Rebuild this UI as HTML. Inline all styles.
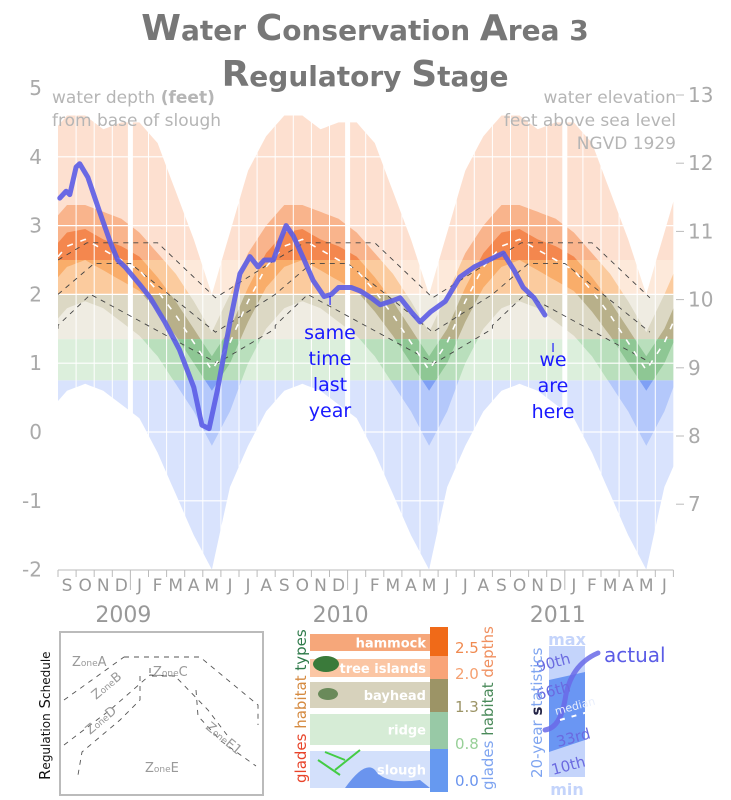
<!DOCTYPE html>
<html><head><meta charset="utf-8"><style>
body{margin:0;background:#fff;width:731px;height:800px;overflow:hidden;font-family:"DejaVu Sans","Liberation Sans",sans-serif}
svg{position:absolute;left:0;top:0}
</style></head><body>
<svg id="c" width="731" height="800" xmlns="http://www.w3.org/2000/svg"></svg>
<script>
// ---- data ----
const monthLabels=["S","O","N","D","J","F","M","A","M","J","J","A","S","O","N","D","J","F","M","A","M","J","J","A","S","O","N","D","J","F","M","A","M","J"];
const yearLabels=["2009","2010","2011"];
const leftTicks=[5,4,3,2,1,0,-1,-2];
const rightTicks=[13,12,11,10,9,8,7];
// seasonal statistics, Jan..Dec (depth ft)
const statMax=[4.5,4.2,3.5,2.8,2.0,2.9,3.8,4.3,4.6,4.6,4.4,4.5];
const statP90=[2.9,2.6,2.3,1.9,1.45,2.0,2.6,3.0,3.3,3.3,3.2,3.1];
const statP66=[2.55,2.25,1.9,1.5,1.1,1.5,2.1,2.6,2.9,2.95,2.8,2.7];
const statMed=[2.35,2.05,1.7,1.3,0.9,1.3,1.9,2.4,2.7,2.8,2.65,2.5];
const statP33=[2.05,1.75,1.4,1.0,0.6,1.0,1.6,2.1,2.4,2.5,2.35,2.2];
const statP10=[1.4,1.1,0.7,0.3,-0.2,0.3,1.0,1.5,1.8,1.9,1.8,1.6];
const statMin=[0.2,-0.3,-0.9,-1.5,-2.0,-0.8,-0.2,0.3,0.6,0.7,0.6,0.4];
// actual depth: month offset from Sep 1 2008, depth
const actualMonth=[0.1,0.45,0.65,1.0,1.2,1.65,2.3,2.9,3.3,3.7,4.5,5.1,5.9,6.7,7.5,7.95,8.35,8.8,9.5,10.05,10.6,11.05,11.4,11.9,12.3,12.6,13.0,13.6,14.1,14.7,15.1,15.5,16.2,16.7,17.3,17.8,18.4,18.9,19.5,20.0,20.6,21.4,22.2,23.0,23.8,24.6,25.2,25.7,26.3,26.9];
const actualDepth=[3.4,3.5,3.45,3.85,3.9,3.7,3.2,2.75,2.5,2.4,2.15,1.95,1.6,1.2,0.65,0.1,0.05,0.6,1.6,2.3,2.55,2.4,2.5,2.5,2.8,3.0,2.85,2.5,2.2,1.97,2.0,2.1,2.1,2.05,1.95,1.85,1.9,1.95,1.75,1.6,1.75,1.9,2.25,2.4,2.5,2.6,2.35,2.1,1.95,1.7];
// regulation schedule lines (month offset from Sep 1, depth) repeating yearly
const reg1M=[0,1.6,5.5,8.7,12], reg1V=[2.5,2.75,2.75,1.95,2.5];
const reg2M=[0,2.0,4.0,8.7,12], reg2V=[2.0,2.45,2.45,1.45,2.0];
const reg3M=[0,1.8,8.8,12], reg3V=[1.55,2.0,1.0,1.5];
// habitat zones (depth bounds) and colors [light, mid, dark]
const zoneLow=[2.5,2.0,1.35,0.75,-3];
const zoneHigh=[6,2.5,2.0,1.35,0.75];
const zoneCols=[["#fde0d0","#f9b48c","#f4874e"],["#fde9da","#fbcb9e","#f9ad6a"],["#efece2","#dcd8c4","#b8b08a"],["#dcefdc","#b9dfbc","#8ec794"],["#d9e3fd","#b4c8fb","#7fa0f5"]];

const S=document.getElementById('c'),NS='http://www.w3.org/2000/svg';
function mk(t,a,p){const e=document.createElementNS(NS,t);for(const k in a)e.setAttribute(k,a[k]);(p||S).appendChild(e);return e;}
const X0=58,MW=18.1;
const xs=m=>X0+m*MW;
const ys=d=>432-d*68.8;
const yR=e=>436-(e-8)*68.2;

function statAt(arr,m){
  const t=m-0.5; const i=Math.floor(t); const f=t-i;
  const cal=k=>arr[((k+8)%12+12)%12];
  return cal(i)*(1-f)+cal(i+1)*f;
}
function bandPath(lo,hi){
  let pts=[],N=34*4;
  for(let k=0;k<=N;k++){const m=k/4;pts.push(xs(m).toFixed(1)+','+ys(statAt(hi,m)).toFixed(1));}
  for(let k=N;k>=0;k--){const m=k/4;pts.push(xs(m).toFixed(1)+','+ys(statAt(lo,m)).toFixed(1));}
  return 'M'+pts.join('L')+'Z';
}
const defs=mk('defs',{});
const gBands=mk('g',{});


zoneLow.forEach((lo,i)=>{
  const cp=mk('clipPath',{id:'z'+i},defs);
  mk('rect',{x:X0,y:ys(zoneHigh[i]),width:34*MW,height:ys(lo)-ys(zoneHigh[i])},cp);
  const g=mk('g',{'clip-path':'url(#z'+i+')'},gBands);
  const a=mk('path',{d:bandPath(statMin,statMax),fill:zoneCols[i][0]},g);
  
  
  const b=mk('path',{d:bandPath(statP10,statP90),fill:zoneCols[i][1]},g);
  
  
  const c=mk('path',{d:bandPath(statP33,statP66),fill:zoneCols[i][2]},g);
  
  
});
for(let m=1;m<34;m++){const l=mk('line',{x1:xs(m),x2:xs(m),y1:80,y2:568,stroke:'#fff','stroke-width':(m%12==4)?5:1});
}
leftTicks.forEach(v=>{const l=mk('line',{x1:X0,x2:xs(34),y1:ys(v),y2:ys(v),stroke:'#fff','stroke-width':1.2});
});
function regPath(M,V){let p=[];for(let y=-1;y<3;y++)M.forEach((m,i)=>{const mm=m+12*y;if(mm>=-0.01&&mm<=34.01)p.push(xs(mm).toFixed(1)+','+ys(V[i]).toFixed(1));});
  return 'M'+p.join('L');}
[[reg1M,reg1V],[reg2M,reg2V],[reg3M,reg3V]].forEach(([M,V],i)=>{
  const p=mk('path',{d:regPath(M,V),fill:'none',stroke:'#444','stroke-width':0.9,'stroke-dasharray':'5,5','clip-path':'url(#pl)'});
  });
const pl=mk('clipPath',{id:'pl'},defs);mk('rect',{x:X0,y:0,width:34*MW,height:600},pl);
(function(){let p=[];for(let k=0;k<=136;k++){const m=k/4;p.push(xs(m).toFixed(1)+','+ys(statAt(statMed,m)).toFixed(1));}
const e=mk('path',{d:'M'+p.join('L'),fill:'none',stroke:'#fff','stroke-width':1.6,'stroke-dasharray':'6,8'});
})();
(function(){const p=actualMonth.map((m,i)=>xs(m).toFixed(1)+','+ys(actualDepth[i]).toFixed(1));
const e=mk('path',{d:'M'+p.join('L'),fill:'none',stroke:'#5b5ce6','stroke-width':5,'stroke-linejoin':'round','stroke-linecap':'round',opacity:0.9});
})();
function txt(s,a,name){const e=mk('text',a);e.textContent=s;return e;}
leftTicks.forEach(v=>txt(String(v),{x:42,y:ys(v)+7,'text-anchor':'end','font-size':20,fill:'#aaa'},'left-tick-label'));
rightTicks.forEach(v=>{mk('line',{x1:676,x2:684,y1:yR(v),y2:yR(v),stroke:'#bbb'});
 txt(String(v),{x:688,y:yR(v)+7,'font-size':20,fill:'#aaa'},'right-tick-label');});
mk('line',{x1:X0,x2:xs(34),y1:570,y2:570,stroke:'#bbb'});
for(let m=0;m<=34;m++){const big=(m%12==4);mk('line',{x1:xs(m),x2:xs(m),y1:570,y2:big?590:577,stroke:'#bbb'});}
monthLabels.forEach((s,i)=>txt(s,{x:xs(i+0.5),y:591,'text-anchor':'middle','font-size':17,fill:'#999'},'month-label'));
yearLabels.forEach((s,i)=>txt(s,{x:xs(4+12*i)-7,y:622,'text-anchor':'middle','font-size':22,fill:'#999'},'year-label'));
const t1=txt('',{x:365,y:40,'text-anchor':'middle','font-size':28,'font-weight':'bold',fill:'#777'},'chart-title');
t1.innerHTML='<tspan font-size="36">W</tspan>ater <tspan font-size="36">C</tspan>onservation <tspan font-size="36">A</tspan>rea 3';
const t2=txt('',{x:365,y:86,'text-anchor':'middle','font-size':28,'font-weight':'bold',fill:'#777'},'chart-subtitle');
t2.innerHTML='<tspan font-size="36">R</tspan>egulatory <tspan font-size="36">S</tspan>tage';
const la=txt('',{x:52,y:103,'font-size':17,fill:'#b5b5b5'},'left-axis-title');la.innerHTML='water depth <tspan font-weight="bold">(feet)</tspan>';
txt('from base of slough',{x:52,y:126,'font-size':17,fill:'#b5b5b5'},'left-axis-subtitle');
txt('water elevation',{x:676,y:103,'text-anchor':'end','font-size':17,fill:'#b5b5b5'},'right-axis-title');
txt('feet above sea level',{x:676,y:126,'text-anchor':'end','font-size':17,fill:'#b5b5b5'},'right-axis-subtitle');
txt('NGVD 1929',{x:676,y:149,'text-anchor':'end','font-size':17,fill:'#b5b5b5'},'right-axis-datum');
['I','same','time','last','year'].forEach((s,i)=>txt(s,{x:330,y:[305,339,365,391,417][i],'text-anchor':'middle','font-size':i==0?12:19,fill:'#1a1aff'},'same-time-last-year-annotation'));
['I','we','are','here'].forEach((s,i)=>txt(s,{x:553,y:[352,366,392,418][i],'text-anchor':'middle','font-size':i==0?12:19,fill:'#1a1aff'},'we-are-here-annotation'));

const r=mk('rect',{x:60,y:632,width:203,height:163,fill:'#fff',stroke:'#bbb','stroke-width':2});

const rl=txt('',{transform:'translate(50,780) rotate(-90)','font-size':15,fill:'#111'},'regulation-schedule-title');
rl.innerHTML='R<tspan font-size="12">egulation</tspan> S<tspan font-size="12">chedule</tspan>';
[['M124,657 L200,657 L258,705 L258,725'],['M64,700 L124,657'],['M64,745 L110,710 L150,675 L175,676 L208,710 L227,735'],['M140,676 L140,700 L120,720 L82,752 L78,775'],['M196,690 L198,716 L221,741 L256,766'],['M150,668 L150,676 L175,676']].forEach(d=>mk('path',{d:d[0],fill:'none',stroke:'#555','stroke-dasharray':'5,5','stroke-width':0.9}));
[['ZoneA',72,666,0],['ZoneB',96,700,-40],['ZoneC',153,676,0],['ZoneD',90,735,-40],['ZoneE',145,772,0],['ZoneE1',205,728,40]].forEach(z=>{
 const e=txt('',{x:z[1],y:z[2],'font-size':13,fill:'#999',transform:'rotate('+z[3]+' '+z[1]+' '+z[2]+')'},'zone-label');
 e.innerHTML='Z<tspan font-size="9">one</tspan>'+z[0].slice(4);});
const hab=[['hammock',634,651,'#f6a77a'],['tree islands',659,677,'#fbc6a4'],['bayhead',682,708,'#d7d2bc'],['ridge',714,745,'#d6ecd6'],['slough',751,788,'#d3e0fb']];
hab.forEach(h=>{const b=mk('rect',{x:310,y:h[1],width:120,height:h[2]-h[1],fill:h[3]});});
mk('ellipse',{cx:326,cy:664,rx:13,ry:8,fill:'#3a7a3a'});
mk('ellipse',{cx:328,cy:694,rx:10,ry:6,fill:'#6a8a5a'});
mk('path',{d:'M345,788 Q365,760 375,770 Q385,785 420,780 L430,788 Z',fill:'#6a94ee'});
mk('path',{d:'M318,760 L340,775 M325,752 L345,760 M335,770 L360,750',stroke:'#4c4',fill:'none','stroke-width':2});
hab.forEach(h=>txt(h[0],{x:426,y:(h[1]+h[2])/2+5,'text-anchor':'end','font-size':13,'font-weight':'bold',fill:'#fff'},'habitat-label'));
[[627,656,'#f06a18'],[656,679,'#f9a478'],[679,712,'#9c9466'],[712,749,'#98c9a6'],[749,792,'#6699f0']].forEach(s=>{const b=mk('rect',{x:430,y:s[0],width:18,height:s[1]-s[0],fill:s[2]});});
[['2.5',653,'#f08a50'],['2.0',679,'#f5a070'],['1.3',712,'#9c9466'],['0.8',749,'#98d098'],['0.0',786,'#6a94ee']].forEach(l=>txt(l[0],{x:455,y:l[1],'font-size':15,fill:l[2]},'habitat-depth-label'));
const ht=txt('',{transform:'translate(306,783) rotate(-90)','font-size':15},'habitat-types-title');ht.innerHTML='<tspan fill="#e8442a">glades</tspan> <tspan fill="#d58a40">habitat</tspan> <tspan fill="#2e7a4a">types</tspan>';
const hd=txt('',{transform:'translate(493,790) rotate(-90)','font-size':15},'habitat-depths-title');hd.innerHTML='<tspan fill="#7ea4f0">glades</tspan> <tspan fill="#4a8a5a">habitat</tspan> <tspan fill="#f09060">depths</tspan>';
const sb=mk('rect',{x:549,y:646,width:36,height:131,fill:'#c4d4fb'});
mk('path',{d:'M549,680 L585,672 L585,740 L549,752 Z',fill:'#6a96f3'});
mk('path',{d:'M545,730 Q560,728 565,700 Q570,665 598,653',fill:'none',stroke:'#6a6ae8','stroke-width':5,'stroke-linecap':'round',opacity:0.85});
mk('path',{d:'M560,720 L588,712',stroke:'#fff','stroke-width':2,'stroke-dasharray':'5,7'});
txt('max',{x:567,y:645,'text-anchor':'middle','font-size':16,'font-weight':'bold',fill:'#c4d4fb'},'stat-max-label');
txt('min',{x:567,y:795,'text-anchor':'middle','font-size':16,'font-weight':'bold',fill:'#c4d4fb'},'stat-min-label');
[['90th',538,672],['66th',538,700],['median',556,715],['33rd',558,747],['10th',553,775]].forEach(l=>txt(l[0],{x:l[1],y:l[2],'font-size':l[0]=='median'?11:15,fill:l[0]=='median'?'#e8eefc':'#6a6ae0',transform:'rotate(-15 '+l[1]+' '+l[2]+')'},'stat-percentile-label'));
txt('actual',{x:604,y:662,'font-size':20,fill:'#5b5ce6'},'stat-actual-label');
const st=txt('',{transform:'translate(542,778) rotate(-90)','font-size':15,fill:'#7ea4f0'},'statistics-title');st.innerHTML='20-year <tspan font-weight="bold" fill="#224">s</tspan>tatistics';
</script>
</body></html>
